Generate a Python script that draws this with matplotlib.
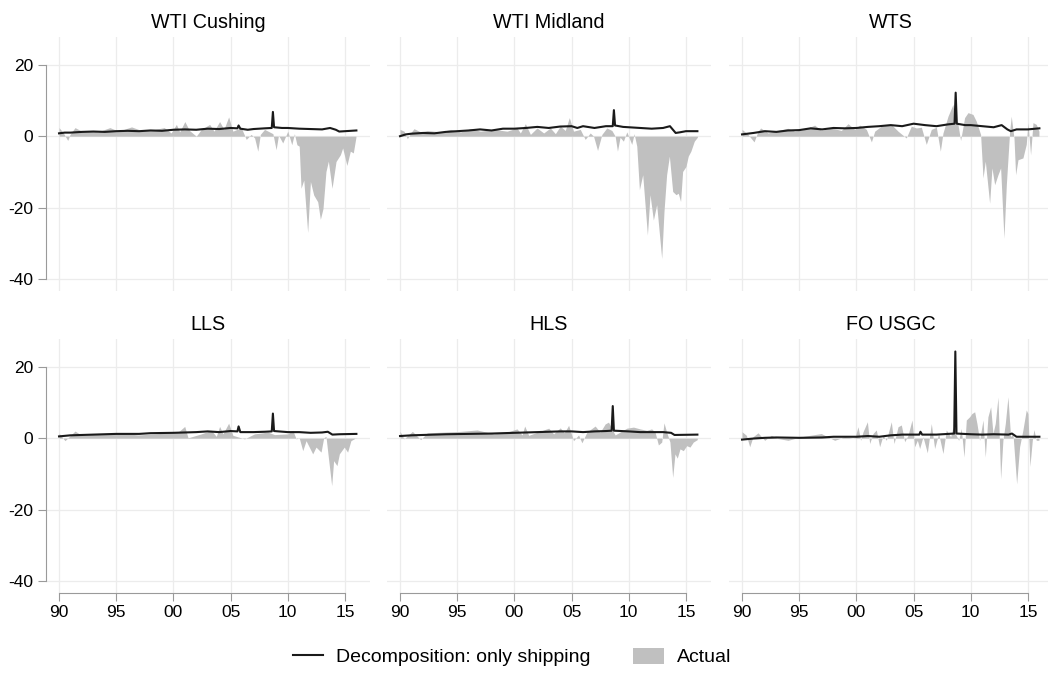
import matplotlib
matplotlib.use("Agg")
import matplotlib.pyplot as plt
from matplotlib.lines import Line2D
from matplotlib.patches import Patch

plt.rcParams.update({
    "font.family": ["Liberation Sans", "DejaVu Sans"],
    "font.size": 12,
})

# values (year, price differential)
# WTI Cushing
cush_act_t = [1990.0, 1990.38, 1990.76, 1990.96, 1991.4, 1991.98, 1992.56, 1993.4, 1994.45, 1995.2,
              1996.34, 1997.2, 1998.4, 1999.2, 1999.8, 2000.26, 2000.55, 2001.0, 2001.4, 2002.0,
              2002.44, 2003.17, 2003.55, 2004.04, 2004.42, 2004.83, 2005.2, 2005.93, 2006.37, 2006.8,
              2007.1, 2007.38, 2007.6, 2007.97, 2008.4, 2008.7, 2008.98, 2009.19, 2009.56, 2010.0,
              2010.35, 2010.58, 2010.8, 2011.0, 2011.16, 2011.4, 2011.74, 2011.98, 2012.27, 2012.62,
              2012.85, 2013.08, 2013.34, 2013.55, 2013.87, 2014.22, 2014.6, 2014.8, 2015.17, 2015.47,
              2015.73, 2015.96]
cush_act_v = [2.4, 0.9, -1.2, 0.5, 2.4, 1.4, 1.6, 1.2, 2.4, 1.4,
              2.6, 1.6, 1.9, 2.4, 0.9, 3.3, 1.2, 4.1, 1.6, 0.0,
              1.9, 3.3, 1.4, 4.1, 1.9, 5.4, 1.4, 2.4, -0.9, 0.5,
              -0.5, -4.2, 0.5, 1.9, 1.2, 0.7, -3.8, 0.3, -1.9, 1.4,
              -2.4, 0.7, -2.4, -2.8, -14.6, -12.3, -27.0, -12.7, -16.5, -18.4,
              -23.3, -20.3, -9.9, -7.0, -14.6, -7.1, -5.2, -3.3, -8.2, -4.2,
              -4.7, -0.3]
cush_dec_t = [1990.0, 1990.5, 1991, 1992, 1993, 1994, 1995, 1996, 1997, 1998, 1999, 2000, 2001, 2002,
              2003, 2004, 2005, 2005.6, 2005.7, 2005.85, 2006.5, 2007, 2008, 2008.6, 2008.7, 2008.8,
              2009.5, 2010, 2011, 2012, 2013, 2013.7, 2014.2, 2014.5, 2015, 2016]
cush_dec_v = [0.8, 1.0, 1.0, 1.2, 1.3, 1.2, 1.4, 1.5, 1.4, 1.6, 1.5, 1.8, 1.9, 1.8,
              2.1, 2.0, 2.3, 2.2, 3.0, 2.1, 1.8, 2.0, 2.2, 2.3, 6.8, 2.5,
              2.3, 2.3, 2.1, 2.0, 1.9, 2.3, 1.8, 1.3, 1.4, 1.6]

# WTI Midland
midl_act_t = [1990.0, 1990.35, 1990.64, 1990.93, 1991.22, 1991.8, 1992.38, 1993.55, 1994.42, 1995.29,
              1996.16, 1997.03, 1998.2, 1999.36, 2000.23, 2000.52, 2000.96, 2001.4, 2001.98, 2002.56,
              2003.14, 2003.58, 2004.01, 2004.45, 2004.8, 2005.17, 2005.76, 2006.19, 2006.63, 2006.92,
              2007.27, 2007.65, 2008.08, 2008.52, 2008.81, 2009.01, 2009.24, 2009.53, 2009.83, 2010.26,
              2010.47, 2010.7, 2010.93, 2011.22, 2011.63, 2011.86, 2012.15, 2012.44, 2012.88, 2013.08,
              2013.31, 2013.55, 2013.84, 2014.13, 2014.33, 2014.53, 2014.71, 2015.0, 2015.2, 2015.43,
              2015.73, 2016.0]
midl_act_v = [1.9, 1.4, -0.7, 0.9, 2.1, 1.2, 1.6, 1.2, 1.9, 1.2,
              2.1, 1.4, 1.9, 1.4, 2.3, 0.9, 3.5, 0.5, 2.3, 0.9,
              2.3, 0.7, 2.8, 1.6, 5.2, 1.4, 1.9, -0.9, 0.9, 0.0,
              -4.0, 0.5, 2.3, 1.6, 0.0, -4.2, -0.3, -1.4, 1.2, -2.3,
              0.7, -2.8, -15.0, -10.8, -27.7, -16.4, -23.5, -19.2, -34.3, -21.1,
              -10.8, -5.6, -15.5, -16.4, -16.0, -18.3, -9.9, -8.5, -5.6, -4.2,
              -1.4, -0.3]
midl_dec_t = [1990.0, 1990.5, 1991, 1992, 1993, 1994, 1995, 1996, 1997, 1998, 1999, 2000, 2001, 2002,
              2003, 2004, 2005, 2005.5, 2006, 2007, 2008, 2008.6, 2008.7, 2008.8, 2009.5, 2010, 2011,
              2012, 2013, 2013.6, 2014.1, 2014.5, 2015, 2016]
midl_dec_v = [0.0, 0.5, 0.7, 0.9, 0.8, 1.2, 1.4, 1.6, 1.9, 1.6, 2.1, 2.1, 2.3, 2.6,
              2.3, 2.7, 2.8, 2.3, 2.8, 2.3, 2.8, 2.8, 7.3, 3.0, 2.6, 2.5, 2.3,
              2.1, 2.3, 2.8, 0.9, 1.1, 1.4, 1.4]

# WTS
wts_act_t = [1990.0, 1990.52, 1991.05, 1991.4, 1991.63, 1992.27, 1993.15, 1994.02, 1994.6, 1995.48,
             1996.35, 1996.93, 1997.81, 1998.68, 1999.27, 1999.85, 2000.29, 2000.87, 2001.31, 2001.6,
             2002.18, 2003.05, 2003.64, 2004.36, 2004.8, 2005.24, 2005.68, 2006.11, 2006.55, 2006.99,
             2007.34, 2007.57, 2008.01, 2008.44, 2008.65, 2008.88, 2009.11, 2009.46, 2009.76, 2010.19,
             2010.48, 2010.86, 2011.07, 2011.27, 2011.65, 2011.85, 2012.09, 2012.38, 2012.61, 2012.9,
             2013.11, 2013.4, 2013.54, 2013.78, 2013.92, 2014.13, 2014.56, 2014.85, 2015.0, 2015.23,
             2015.44, 2015.73, 2015.96]
wts_act_v = [1.9, 0.5, -1.6, 1.4, 2.3, 0.9, 1.6, 2.2, 1.4, 1.9,
             3.1, 1.6, 2.3, 1.6, 3.5, 1.9, 3.1, 1.9, -1.6, 1.4,
             2.8, 3.3, 1.4, -0.5, 2.8, 2.3, 2.5, -2.3, 1.9, 2.5,
             -4.2, 0.9, 5.6, 8.9, 4.2, 3.3, -1.2, 5.2, 6.6, 6.1,
             4.2, 0.5, -11.7, -7.0, -18.8, -8.9, -13.6, -10.8, -8.9, -28.6,
             -13.6, 1.4, 5.6, -0.5, -10.8, -6.6, -6.1, -2.3, 3.8, -5.2,
             3.8, 3.3, 1.4]
wts_dec_t = [1990.0, 1991, 1992, 1993, 1994, 1995, 1996, 1997, 1998, 1999, 2000, 2001, 2002, 2003,
             2004, 2005, 2006, 2007, 2008, 2008.58, 2008.68, 2008.78, 2009.5, 2010, 2011, 2012, 2012.7,
             2013.2, 2013.5, 2014, 2015, 2016]
wts_dec_v = [0.5, 0.9, 1.4, 1.2, 1.6, 1.7, 2.2, 1.9, 2.3, 2.2, 2.3, 2.6, 2.8, 3.1,
             2.8, 3.5, 3.1, 2.8, 3.3, 3.5, 12.2, 3.5, 3.1, 3.1, 2.8, 2.5, 3.1,
             1.9, 1.4, 1.9, 1.9, 2.2]

# LLS
lls_act_t = [1990.0, 1990.52, 1991.4, 1991.98, 1993.43, 1995.47, 1996.92, 1998.37, 2000.41, 2000.99,
             2001.28, 2002.44, 2003.31, 2003.75, 2004.04, 2004.33, 2004.83, 2005.2, 2006.22, 2007.09,
             2008.26, 2008.84, 2010.0, 2010.44, 2010.73, 2011.0, 2011.31, 2011.6, 2012.18, 2012.47,
             2012.91, 2013.14, 2013.34, 2013.55, 2013.84, 2014.01, 2014.3, 2014.51, 2014.94, 2015.23,
             2015.52, 2015.96]
lls_act_v = [1.4, -0.7, 2.0, 0.8, 1.2, 1.4, 0.9, 1.2, 1.7, 3.3,
             0.1, 1.2, 2.2, 0.5, 3.3, 1.2, 4.2, 0.8, -0.2, 1.2,
             1.7, 1.0, 1.2, 2.2, -0.2, 0.1, -3.5, -0.7, -4.4, -2.5,
             -3.9, 0.1, 0.5, -5.4, -13.3, -6.3, -7.7, -4.4, -2.5, -3.9,
             -0.7, 0.1]
lls_dec_t = [1990.0, 1991, 1992, 1993, 1995, 1997, 1998, 2000, 2001, 2002, 2003, 2004, 2005,
             2005.6, 2005.7, 2005.85, 2007, 2008, 2008.6, 2008.7, 2008.8, 2010, 2011, 2012, 2013,
             2013.5, 2013.9, 2014.5, 2016]
lls_dec_v = [0.5, 0.8, 0.9, 1.0, 1.2, 1.2, 1.4, 1.5, 1.6, 1.7, 1.9, 1.7, 2.0,
             1.9, 3.3, 1.7, 1.7, 1.8, 1.9, 6.9, 2.0, 1.7, 1.7, 1.5, 1.6,
             1.8, 1.0, 1.1, 1.2]

# HLS
hls_act_t = [1990.0, 1990.35, 1991.08, 1991.8, 1992.38, 1993.84, 1995.29, 1996.74, 1998.2, 1999.36,
             2000.23, 2000.67, 2000.9, 2001.25, 2003.0, 2003.43, 2004.01, 2004.36, 2004.74, 2005.17,
             2005.61, 2005.9, 2006.34, 2007.06, 2007.5, 2007.94, 2008.23, 2008.52, 2008.81, 2009.83,
             2010.41, 2010.99, 2011.57, 2012.0, 2012.3, 2012.59, 2012.88, 2013.08, 2013.31, 2013.6,
             2013.84, 2014.04, 2014.24, 2014.48, 2014.77, 2015.06, 2015.35, 2015.64, 2015.99]
hls_act_v = [1.9, -0.2, 1.9, -0.4, 1.5, 1.7, 1.9, 2.3, 1.2, 1.7,
             2.6, 0.9, 3.4, 0.8, 2.8, 1.2, 2.9, 1.5, 3.6, -0.7,
             0.9, -1.3, 1.7, 3.4, 1.7, 4.0, 4.5, 2.6, 0.9, 2.8,
             3.1, 2.6, 2.2, 2.6, 1.7, -1.9, -1.1, 4.3, 1.7, -1.1,
             -11.0, -4.4, -5.6, -3.0, -3.5, -2.1, -2.5, -1.1, -0.4]
hls_dec_t = [1990.0, 1991, 1992, 1994, 1996, 1998, 2000, 2002, 2004, 2005, 2006, 2007, 2008,
             2008.5, 2008.6, 2008.7, 2010, 2011, 2012, 2013, 2013.7, 2014, 2016]
hls_dec_v = [0.6, 0.8, 0.9, 1.1, 1.2, 1.3, 1.5, 1.7, 1.9, 1.9, 1.7, 1.9, 2.0,
             2.1, 9.0, 2.1, 1.9, 1.7, 1.7, 1.7, 1.5, 0.9, 1.0]

# FO USGC
fo_act_t = [1990.0, 1990.38, 1990.67, 1990.96, 1991.4, 1991.98, 1992.56, 1993.15, 1994.02, 1995.19,
            1996.35, 1996.93, 1998.1, 1998.97, 1999.85, 2000.14, 2000.37, 2000.58, 2000.96, 2001.16,
            2001.45, 2001.74, 2002.03, 2002.33, 2002.62, 2003.05, 2003.29, 2003.64, 2003.93, 2004.22,
            2004.51, 2004.86, 2005.09, 2005.33, 2005.53, 2005.82, 2006.2, 2006.55, 2006.84, 2007.19,
            2007.57, 2007.86, 2008.24, 2008.44, 2008.65, 2008.94, 2009.17, 2009.41, 2009.61, 2009.9,
            2010.1, 2010.34, 2010.54, 2010.77, 2011.07, 2011.27, 2011.5, 2011.74, 2011.94, 2012.14,
            2012.38, 2012.61, 2012.81, 2013.02, 2013.25, 2013.48, 2013.69, 2014.01, 2014.27, 2014.56,
            2014.85, 2015.0, 2015.17, 2015.38, 2015.52, 2015.73, 2015.96]
fo_act_v = [1.8, 0.8, -2.4, 0.4, 1.5, -0.6, 0.8, -0.1, -0.6, 0.4,
            1.0, 1.3, -0.6, 0.4, -0.1, 3.2, -0.6, 1.8, 4.6, -1.5,
            1.3, 2.3, -2.4, 0.8, -0.6, 4.6, -1.5, 3.2, 3.7, -1.0,
            0.8, 5.1, -2.4, -0.6, -2.9, 0.4, -4.1, 4.1, -2.9, 1.3,
            -4.3, 2.3, 0.4, 3.0, 1.3, -0.6, 2.7, -5.3, 5.1, 6.0,
            6.9, 7.4, 4.1, -0.6, 5.1, -5.3, 6.0, 8.8, 1.3, 4.1,
            11.5, -11.4, -0.6, 4.1, 11.6, 0.4, 1.3, -12.8, -2.4, 2.3,
            7.9, 6.9, -7.9, -0.6, 2.4, -0.6, -0.6]
fo_dec_t = [1990.0, 1991, 1992, 1993, 1995, 1997, 1998, 2000, 2001, 2002, 2003, 2004, 2005,
            2005.5, 2005.6, 2005.75, 2007, 2008.55, 2008.65, 2008.75, 2010, 2011, 2012, 2013.3,
            2013.6, 2014, 2016]
fo_dec_v = [-0.4, -0.1, 0.1, 0.2, 0.1, 0.2, 0.4, 0.4, 0.6, 0.4, 0.8, 1.0, 1.0,
            1.0, 1.8, 1.0, 1.0, 1.3, 24.3, 1.3, 1.1, 1.0, 1.1, 1.0,
            1.3, 0.4, 0.4]

titles = ["WTI Cushing", "WTI Midland", "WTS", "LLS", "HLS", "FO USGC"]
actual = [(cush_act_t, cush_act_v), (midl_act_t, midl_act_v), (wts_act_t, wts_act_v),
          (lls_act_t, lls_act_v), (hls_act_t, hls_act_v), (fo_act_t, fo_act_v)]
decomp = [(cush_dec_t, cush_dec_v), (midl_dec_t, midl_dec_v), (wts_dec_t, wts_dec_v),
          (lls_dec_t, lls_dec_v), (hls_dec_t, hls_dec_v), (fo_dec_t, fo_dec_v)]

x_ticks = [1990, 1995, 2000, 2005, 2010, 2015]
x_labels = ["90", "95", "00", "05", "10", "15"]
y_ticks = [20, 0, -20, -40]
y_labels = ["20", "0", "-20", "-40"]

W, H = 1048, 681
fig = plt.figure(figsize=(W / 100, H / 100), dpi=100)

col_x = [46, 387, 729]
row_top = [37, 339]
pw, ph = 324, 254
axis_col = "#9a9a9a"
fill_col = "#c0c0c0"
line_col = "#1a1a1a"

for i in range(6):
    r, c = divmod(i, 3)
    ax = fig.add_axes([col_x[c] / W, 1 - (row_top[r] + ph) / H, pw / W, ph / H])
    t, v = actual[i]
    ax.fill_between(t, 0, v, color=fill_col, lw=0, zorder=2)
    t, v = decomp[i]
    ax.plot(t, v, color=line_col, lw=1.5, zorder=3)

    ax.set_xlim(1988.86, 2017.19)
    ax.set_ylim(-43.4, 27.8)
    ax.set_xticks(x_ticks)
    ax.set_yticks(y_ticks)
    ax.grid(True, color="#ececec", lw=0.9, zorder=0)
    ax.set_axisbelow(True)
    for s in ax.spines.values():
        s.set_visible(False)

    if c == 0:
        ax.spines["left"].set_visible(True)
        ax.spines["left"].set_bounds(-40, 20)
        ax.spines["left"].set_color(axis_col)
        ax.set_yticklabels(y_labels)
        ax.tick_params(axis="y", length=5.5, color=axis_col, labelsize=12.5, pad=3.5)
    else:
        ax.tick_params(axis="y", length=0, labelleft=False)

    if r == 1:
        ax.spines["bottom"].set_visible(True)
        ax.spines["bottom"].set_bounds(1990, 2015)
        ax.spines["bottom"].set_color(axis_col)
        ax.set_xticklabels(x_labels)
        ax.tick_params(axis="x", length=6, color=axis_col, labelsize=12.5, pad=2.5)
    else:
        ax.tick_params(axis="x", length=0, labelbottom=False)

    ax.set_title(titles[i], fontsize=14.2, pad=6.7)

handles = [Line2D([], [], color=line_col, lw=1.5), Patch(color=fill_col, lw=0)]
fig.legend(handles, ["Decomposition: only shipping", "Actual"], loc="center",
           bbox_to_anchor=(512 / W, 1 - 657 / H), ncol=2, frameon=False, fontsize=14,
           handlelength=1.55, handleheight=0.93, handletextpad=0.67, columnspacing=2.2)

fig.savefig("out.png", dpi=100)
